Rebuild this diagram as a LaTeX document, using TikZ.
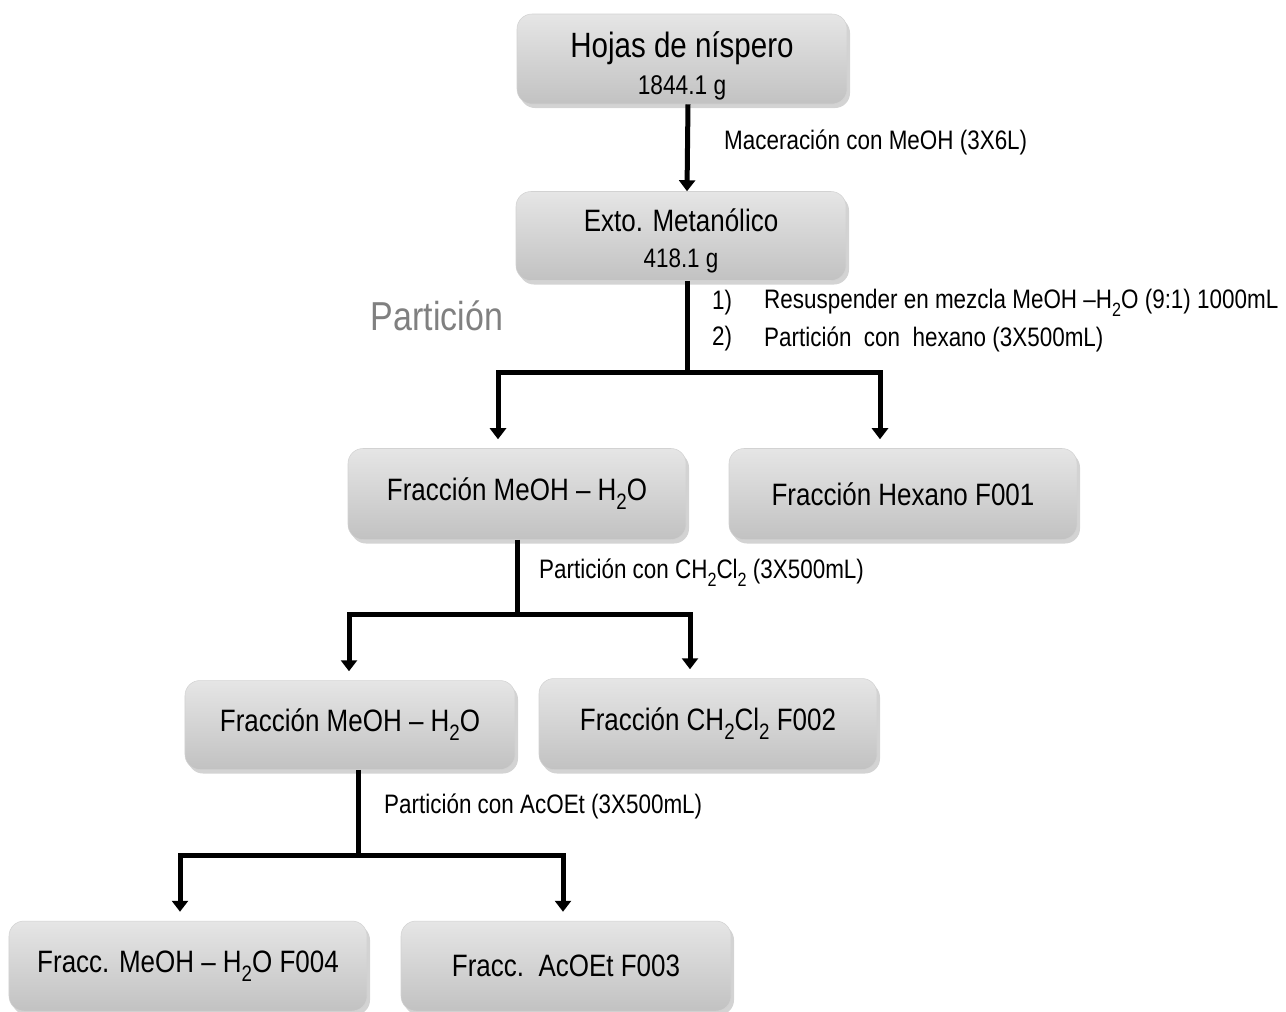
\documentclass[tikz,border=0pt]{standalone}
\usepackage{fontspec}
\setmainfont[FakeStretch=0.84]{Liberation Sans}
\usetikzlibrary{arrows.meta,calc,shadows}

% lowered index for formulas
\newcommand{\subind}[1]{\raisebox{-0.55ex}{\scalebox{0.72}{#1}}}

\tikzset{
  caja/.style={rounded corners=3mm, draw=gray!35, line width=0.3pt,
    top color=gray!20, middle color=gray!40, bottom color=gray!48,
    drop shadow={shadow xshift=0.6mm, shadow yshift=-0.8mm, opacity=0.35},
    align=center, font=\fontsize{17.6}{20}\selectfont},
  linea/.style={line width=1mm},
  flecha/.style={line width=1mm, -{Triangle[width=3.2mm,length=2.2mm]}, shorten >=1.8mm},
  etiqueta/.style={anchor=west, font=\fontsize{15.2}{17}\selectfont}
}

\begin{document}
\begin{tikzpicture}[x=0.2mm, y=-0.2mm]
\useasboundingbox (0,0) rectangle (1286,1011);

% Boxes
\node[caja, inner ysep=0pt, minimum width=66mm, minimum height=18mm] (hojas) at (682,59)
  {\rule{0pt}{22.6pt}{\fontsize{20}{22}\selectfont Hojas de níspero}\\[0.3mm]{\fontsize{15.4}{17}\selectfont 1844.1 g}};
\node[caja, inner ysep=0pt, minimum width=66mm, minimum height=17.8mm] (exto) at (681,236)
  {\rule{0pt}{18.4pt}Exto. Metanólico\\[0.3mm]{\fontsize{15.2}{17}\selectfont 418.1 g}};
\node[caja, minimum width=67.6mm, minimum height=18.2mm] (mh1) at (517,494) {Fracción MeOH -- H\subind{2}O};
\node[caja, minimum width=69.6mm, minimum height=18.2mm] (hex) at (903,494) {Fracción Hexano F001};
\node[caja, minimum width=66mm, minimum height=17.8mm] (mh2) at (350,725) {Fracción MeOH -- H\subind{2}O};
\node[caja, minimum width=67.6mm, minimum height=18.2mm] (dcm) at (708,724) {Fracción CH\subind{2}Cl\subind{2} F002};
\node[caja, minimum width=71.6mm, minimum height=18mm] (f004) at (188,966) {Fracc. MeOH -- H\subind{2}O F004};
\node[caja, minimum width=66mm, minimum height=18mm] (f003) at (566,966) {Fracc.\ \ AcOEt F003};

% Branch points
\coordinate (s1) at (687,372);
\coordinate (s2) at (517,614);
\coordinate (s3) at (358,855);

% Maceration
\draw[flecha, shorten >=0pt] ($(hojas.south)+(6,0)$) -- ($(exto.north)+(6,0)$);
\node[etiqueta] (mac) at (718,142) {Maceración con MeOH (3X6L)};

% First partition
\draw[linea] (s1 |- exto.south) -- (s1);
\draw[flecha] ($(s1)+(2.5,0)$) -| ($(mh1.north)+(-19,0)$);
\draw[flecha] ($(s1)+(-2.5,0)$) -| ($(hex.north)+(-23,0)$);
\node[font=\fontsize{23}{26}\selectfont, text=gray] (part) at (437,316) {Partición};
\node[etiqueta] (n1) at (706,303) {1)};
\node[etiqueta] (p1) at (758,303) {Resuspender en mezcla MeOH --H\subind{2}O (9:1) 1000mL};
\node[etiqueta] (n2) at (706,339) {2)};
\node[etiqueta] (p2) at (758,339) {Partición\ \ con\ \ hexano (3X500mL)};

% Second partition
\draw[linea] (s2 |- mh1.south) -- (s2);
\draw[flecha] ($(s2)+(2.5,0)$) -| ($(mh2.north)+(-1,0)$);
\draw[flecha] ($(s2)+(-2.5,0)$) -| ($(dcm.north)+(-18,0)$);
\node[etiqueta] (p3) at (533,573) {Partición con CH\subind{2}Cl\subind{2} (3X500mL)};

% Third partition
\draw[linea] (s3 |- mh2.south) -- (s3);
\draw[flecha] ($(s3)+(2.5,0)$) -| ($(f004.north)+(-8,0)$);
\draw[flecha] ($(s3)+(-2.5,0)$) -| ($(f003.north)+(-3,0)$);
\node[etiqueta] (p4) at (378,806) {Partición con AcOEt (3X500mL)};

\end{tikzpicture}
\end{document}
